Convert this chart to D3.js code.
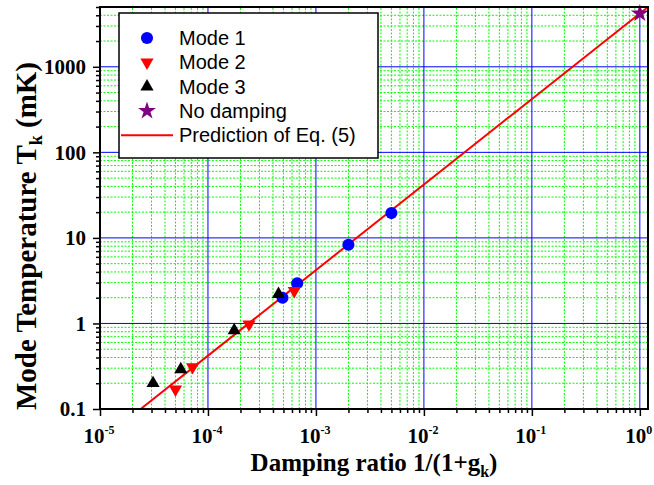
<!DOCTYPE html>
<html>
<head>
<meta charset="utf-8">
<script src="https://cdn.jsdelivr.net/npm/d3@7"></script>
<style>
  body { margin: 0; background: #fff; }
</style>
</head>
<body>
<div id="chart"></div>
<script>
const WIDTH = 654;
const HEIGHT = 485;
const margin = {top: 7, right: 6, bottom: 76, left: 100};

// values
const mode1X = [4.9e-4, 6.7e-4, 2.0e-3, 5.0e-3];
const mode1Y = [2.0, 2.95, 8.3, 19.5];
const mode2X = [5.0e-5, 7.2e-5, 2.4e-4, 6.3e-4];
const mode2Y = [0.17, 0.31, 0.98, 2.4];
const mode3X = [3.1e-5, 5.6e-5, 1.75e-4, 4.5e-4];
const mode3Y = [0.2, 0.29, 0.83, 2.2];
const noDampX = [1];
const noDampY = [4200];
const predX = [2.38e-5, 1.19];
const predY = [0.1, 5000];

const xDomain = [1e-5, 1.19];
const yDomain = [0.1, 5000];
const xDecades = [1e-5, 1e-4, 1e-3, 1e-2, 1e-1, 1];
const xExponents = ["-5", "-4", "-3", "-2", "-1", "0"];
const yDecades = [0.1, 1, 10, 100, 1000];
const yLabels = ["0.1", "1", "10", "100", "1000"];
const legendLabels = ["Mode 1", "Mode 2", "Mode 3", "No damping", "Prediction of Eq. (5)"];

const serif = "'Liberation Serif', 'Times New Roman', serif";
const sans = "'Liberation Sans', Arial, sans-serif";

const svg = d3.select("#chart")
  .append("svg")
  .attr("width", WIDTH)
  .attr("height", HEIGHT)
  .attr("viewBox", [0, 0, WIDTH, HEIGHT]);

const x = d3.scaleLog()
  .domain(xDomain)
  .range([margin.left, WIDTH - margin.right]);

const y = d3.scaleLog()
  .domain(yDomain)
  .range([HEIGHT - margin.bottom, margin.top]);

const isDecade = v => Math.abs(Math.log10(v) - Math.round(Math.log10(v))) < 1e-9;
const xMinor = x.ticks().filter(v => !isDecade(v));
const yMinor = y.ticks().filter(v => !isDecade(v));

// grid
const grid = svg.append("g");
grid.selectAll(".gx-minor")
  .data(xMinor)
  .enter().append("line")
  .attr("x1", d => x(d)).attr("x2", d => x(d))
  .attr("y1", y.range()[0]).attr("y2", y.range()[1])
  .attr("stroke", "#00ff00").attr("stroke-width", 1)
  .attr("stroke-dasharray", "2,1.5");
grid.selectAll(".gy-minor")
  .data(yMinor)
  .enter().append("line")
  .attr("x1", x.range()[0]).attr("x2", x.range()[1])
  .attr("y1", d => y(d)).attr("y2", d => y(d))
  .attr("stroke", "#00ff00").attr("stroke-width", 1)
  .attr("stroke-dasharray", "2,1.5");
grid.selectAll(".gx-major")
  .data(xDecades)
  .enter().append("line")
  .attr("x1", d => x(d)).attr("x2", d => x(d))
  .attr("y1", y.range()[0]).attr("y2", y.range()[1])
  .attr("stroke", "#0000ff").attr("stroke-width", 1);
grid.selectAll(".gy-major")
  .data(yDecades)
  .enter().append("line")
  .attr("x1", x.range()[0]).attr("x2", x.range()[1])
  .attr("y1", d => y(d)).attr("y2", d => y(d))
  .attr("stroke", "#0000ff").attr("stroke-width", 1);

// prediction line
const line = d3.line()
  .x(d => x(d[0]))
  .y(d => y(d[1]));

svg.append("path")
  .datum(d3.zip(predX, predY))
  .attr("d", line)
  .attr("fill", "none")
  .attr("stroke", "#ff0000")
  .attr("stroke-width", 2);

// markers
const circleSym = d3.symbol().type(d3.symbolCircle).size(115);
const triSym = d3.symbol().type(d3.symbolTriangle).size(75);
const starSym = d3.symbol().type(d3.symbolStar).size(100);

const series = [
  {xs: mode1X, ys: mode1Y, sym: circleSym, color: "#0000ff", rot: 0},
  {xs: mode2X, ys: mode2Y, sym: triSym, color: "#ff0000", rot: 180},
  {xs: mode3X, ys: mode3Y, sym: triSym, color: "#000000", rot: 0},
  {xs: noDampX, ys: noDampY, sym: starSym, color: "#800080", rot: 0}
];

series.forEach(s => {
  svg.append("g").selectAll("path")
    .data(d3.zip(s.xs, s.ys))
    .enter().append("path")
    .attr("d", s.sym())
    .attr("fill", s.color)
    .attr("transform", d => `translate(${x(d[0])},${y(d[1])}) rotate(${s.rot})`);
});

// axes
svg.append("g")
  .attr("transform", `translate(0,${y.range()[0]})`)
  .call(d3.axisBottom(x).tickValues(xDecades).tickSize(7).tickFormat(""));
svg.append("g")
  .attr("transform", `translate(0,${y.range()[0]})`)
  .call(d3.axisBottom(x).tickValues(xMinor).tickSize(4).tickFormat(""));

const yAxis = svg.append("g")
  .attr("transform", `translate(${x.range()[0]},0)`)
  .call(d3.axisLeft(y).tickValues(yDecades).tickSize(7).tickPadding(7)
    .tickFormat((d, i) => yLabels[i]));
svg.append("g")
  .attr("transform", `translate(${x.range()[0]},0)`)
  .call(d3.axisLeft(y).tickValues(yMinor).tickSize(4).tickFormat(""));

svg.selectAll(".tick line").attr("stroke", "#000").attr("stroke-width", 1.5);
svg.selectAll(".domain").remove();

yAxis.selectAll("text")
  .attr("font-family", serif)
  .attr("font-weight", "bold")
  .attr("font-size", 21)
  .attr("fill", "#000");

// x tick labels with superscript exponent
svg.append("g").selectAll("text")
  .data(xDecades)
  .enter().append("text")
  .attr("x", d => x(d) - 1)
  .attr("y", y.range()[0] + 34)
  .attr("text-anchor", "middle")
  .attr("font-family", serif)
  .attr("font-weight", "bold")
  .attr("font-size", 21)
  .each(function(d, i) {
    const t = d3.select(this);
    t.append("tspan").text("10");
    t.append("tspan").attr("dy", -9).attr("font-size", 12).text(xExponents[i]);
  });

// frame
svg.append("rect")
  .attr("x", x.range()[0])
  .attr("y", y.range()[1])
  .attr("width", x.range()[1] - x.range()[0])
  .attr("height", y.range()[0] - y.range()[1])
  .attr("fill", "none")
  .attr("stroke", "#000")
  .attr("stroke-width", 2);

// axis titles
const xTitle = svg.append("text")
  .attr("x", (x.range()[0] + x.range()[1]) / 2)
  .attr("y", 471)
  .attr("text-anchor", "middle")
  .attr("font-family", serif)
  .attr("font-weight", "bold")
  .attr("font-size", 25);
xTitle.append("tspan").text("Damping ratio 1/(1+g");
xTitle.append("tspan").attr("font-size", 16).attr("dy", 6).text("k");
xTitle.append("tspan").attr("dy", -6).text(")");

const yTitle = svg.append("text")
  .attr("transform", "translate(36,236) rotate(-90)")
  .attr("text-anchor", "middle")
  .attr("font-family", serif)
  .attr("font-weight", "bold")
  .attr("font-size", 29);
yTitle.append("tspan").text("Mode Temperature T");
yTitle.append("tspan").attr("font-size", 18).attr("dy", 6).text("k");
yTitle.append("tspan").attr("dy", -6).text(" (mK)");

// legend
const legend = svg.append("g");
legend.append("rect")
  .attr("x", 119).attr("y", 13)
  .attr("width", 259).attr("height", 145)
  .attr("fill", "#fff")
  .attr("stroke", "#000")
  .attr("stroke-width", 1.5);

const legendSyms = [
  {sym: circleSym, color: "#0000ff", rot: 0},
  {sym: triSym, color: "#ff0000", rot: 180},
  {sym: triSym, color: "#000000", rot: 0},
  {sym: starSym, color: "#800080", rot: 0},
  null
];

const rows = legend.selectAll(".row")
  .data(legendLabels)
  .enter().append("g")
  .attr("transform", (d, i) => `translate(0,${38 + i * 24.3})`);

rows.each(function(d, i) {
  const g = d3.select(this);
  const s = legendSyms[i];
  if (s) {
    g.append("path")
      .attr("d", s.sym())
      .attr("fill", s.color)
      .attr("transform", `translate(147,0) rotate(${s.rot})`);
  } else {
    g.append("line")
      .attr("x1", 121).attr("x2", 173)
      .attr("stroke", "#ff0000").attr("stroke-width", 2);
  }
});

rows.append("text")
  .attr("x", 179)
  .attr("y", 7)
  .attr("font-family", sans)
  .attr("font-size", 20)
  .attr("fill", "#000")
  .text(d => d);
</script>
</body>
</html>
